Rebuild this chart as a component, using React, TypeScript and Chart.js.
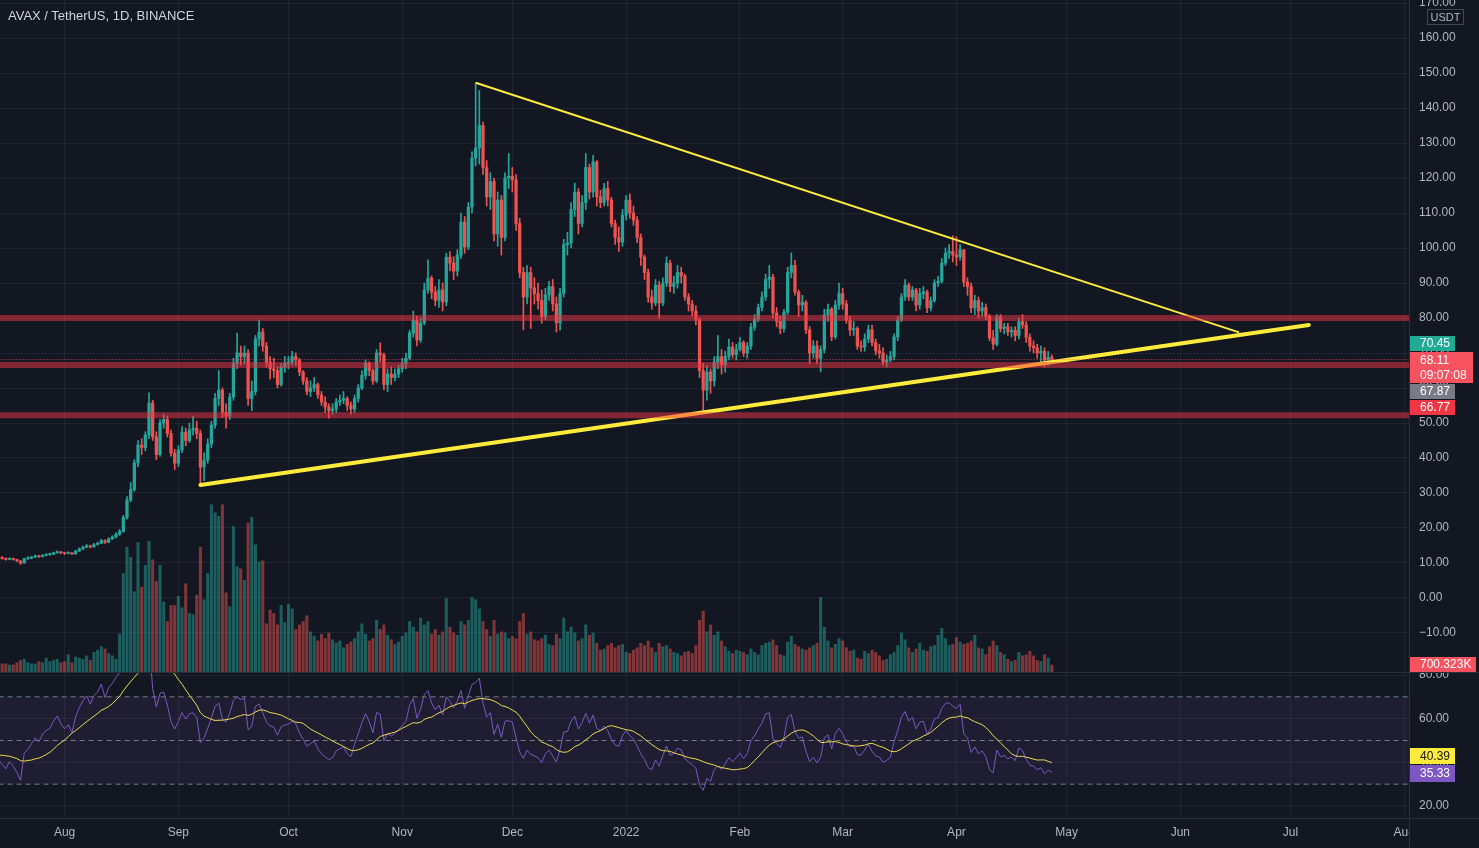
import React, { useEffect, useRef } from 'react';
import { Chart, registerables } from 'chart.js';

Chart.register(...registerables);

// ---------------- DATA ----------------
const symbolTitle = 'AVAX / TetherUS, 1D, BINANCE';
const firstCandleDate = '2021-07-14';

// closes before the first visible candle (only used to warm up the RSI)
const warmupCloses = [14.0, 14.5, 13.3, 13.2, 12.3, 12.0, 12.5, 10.4, 10.0, 10.6, 11.3, 10.6, 10.5, 11.2, 11.5, 12.4, 12.0, 11.7, 11.9, 12.3, 12.6, 12.0, 12.5, 12.6, 11.9, 12.3, 12.0, 12.2, 11.8, 11.7];

const closes = [
  // Jul 14-31
  11.6, 11.3, 11.0, 11.3, 11.0, 10.6, 10.0, 11.2, 11.4, 11.7, 12.0, 11.8, 12.2, 12.4, 12.5, 12.9, 13.2, 12.9,
  // Aug
  12.7, 12.9, 12.6, 13.4, 14.0, 14.5, 14.9, 14.6, 15.3, 15.6, 16.4, 15.9, 16.9, 17.4, 18.2, 19.0, 23.0, 28.0, 31.0, 38.6, 43.7, 43.0, 46.6, 55.7, 46.0, 41.0, 50.0, 51.0, 47.0, 41.4, 38.5,
  // Sep
  42.3, 47.4, 45.0, 48.0, 48.5, 47.0, 37.4, 39.4, 44.0, 49.4, 57.0, 59.4, 53.0, 52.0, 57.4, 67.0, 70.0, 69.0, 70.0, 57.0, 59.0, 74.0, 76.0, 72.0, 67.4, 65.5, 65.0, 61.0, 66.0, 67.0,
  // Oct
  67.4, 69.0, 68.0, 64.6, 62.0, 59.0, 60.0, 61.0, 58.0, 56.0, 54.6, 53.5, 54.0, 56.0, 56.5, 57.0, 55.0, 54.0, 57.0, 60.0, 63.6, 67.0, 65.0, 62.0, 70.0, 69.5, 61.0, 64.0, 63.0, 64.0, 65.5,
  // Nov
  67.0, 68.5, 75.7, 79.4, 73.7, 78.6, 88.0, 91.4, 87.4, 85.0, 88.0, 84.6, 97.4, 95.7, 93.4, 98.0, 107.4, 100.3, 111.7, 125.7, 128.6, 135.0, 123.0, 114.6, 119.0, 104.0, 113.7, 103.0, 120.0, 120.5,
  // Dec
  119.5, 107.0, 93.0, 86.0, 93.0, 88.6, 87.0, 85.0, 80.3, 86.6, 89.0, 84.0, 78.6, 87.0, 101.0, 101.4, 111.0, 116.0, 107.0, 113.0, 123.0, 116.0, 124.6, 114.6, 113.0, 117.0, 113.7, 107.0, 103.0, 101.7, 109.4,
  // Jan
  113.7, 110.0, 108.0, 103.0, 97.4, 93.0, 86.0, 84.3, 89.4, 84.3, 90.0, 95.7, 89.0, 90.0, 93.0, 92.0, 86.0, 84.0, 82.0, 79.4, 65.0, 59.4, 64.6, 62.0, 67.4, 69.0, 66.6, 69.0, 71.7, 69.5, 71.0,
  // Feb
  73.0, 70.0, 72.0, 77.4, 79.7, 83.0, 86.0, 91.0, 91.7, 81.4, 79.0, 77.0, 81.7, 93.0, 95.0, 87.4, 83.7, 84.5, 76.6, 70.0, 72.0, 68.5, 71.0, 80.9, 82.5, 74.6, 83.7, 87.0,
  // Mar
  84.0, 79.4, 76.6, 77.0, 72.0, 71.7, 74.0, 76.6, 73.0, 70.6, 70.0, 67.4, 68.0, 69.0, 74.6, 79.4, 86.0, 89.4, 86.0, 88.0, 83.7, 87.0, 87.5, 82.9, 85.0, 90.0, 90.5, 95.7, 98.6, 99.0, 98.0,
  // Apr 1-27
  97.4, 99.5, 90.3, 89.0, 82.9, 85.0, 82.0, 83.0, 80.5, 74.3, 72.5, 80.3, 77.0, 77.5, 76.0, 76.5, 75.0, 79.0, 78.0, 74.5, 72.0, 71.5, 70.0, 70.5, 68.0, 68.8, 68.11,
];

const highs = [
  12.0, 11.8, 11.5, 11.5, 11.4, 11.1, 10.7, 11.4, 11.8, 11.9, 12.3, 12.2, 12.4, 12.7, 12.8, 13.1, 13.5, 13.3,
  13.1, 13.2, 13.0, 13.6, 14.3, 14.8, 15.3, 15.1, 15.6, 16.0, 16.8, 16.6, 17.2, 17.8, 18.6, 19.6, 23.6, 29.0, 33.0, 39.5, 45.0, 45.5, 47.5, 58.6, 56.5, 47.5, 51.0, 52.5, 52.0, 48.0, 42.5,
  43.5, 49.0, 48.5, 50.0, 52.0, 50.5, 48.0, 41.5, 45.5, 50.5, 58.5, 65.0, 60.0, 55.5, 58.5, 68.5, 75.7, 72.0, 72.0, 71.0, 62.0, 75.0, 79.4, 77.0, 73.0, 69.0, 68.5, 66.0, 67.0, 69.0,
  69.0, 70.5, 70.0, 68.5, 65.0, 63.0, 62.0, 63.0, 61.5, 59.0, 57.5, 55.5, 55.5, 57.0, 58.0, 59.0, 57.5, 56.0, 58.0, 61.0, 65.0, 68.0, 67.5, 65.5, 71.0, 72.9, 70.0, 65.5, 66.0, 65.5, 66.5,
  68.5, 70.0, 76.5, 82.0, 80.5, 80.0, 90.0, 96.6, 92.0, 89.0, 91.0, 90.0, 98.5, 99.0, 97.5, 99.5, 110.0, 109.0, 113.0, 127.5, 147.2, 145.0, 136.0, 125.0, 121.5, 120.0, 116.0, 115.0, 121.5, 127.0,
  123.0, 121.0, 108.5, 94.5, 95.0, 94.5, 91.5, 90.0, 88.0, 88.5, 90.5, 91.0, 86.0, 88.5, 102.5, 104.5, 113.0, 118.5, 117.0, 115.0, 127.0, 124.0, 126.5, 125.0, 116.5, 118.5, 119.0, 114.5, 108.0, 106.0, 111.0,
  115.0, 115.5, 112.0, 109.0, 104.0, 98.0, 94.0, 88.0, 91.0, 90.5, 91.5, 97.5, 96.5, 92.0, 95.0, 94.5, 92.5, 87.0, 85.0, 83.5, 80.0, 67.0, 66.5, 65.5, 69.0, 75.0, 71.0, 70.5, 74.0, 73.0, 72.5,
  74.5, 73.5, 73.0, 78.5, 81.0, 84.0, 87.5, 92.5, 95.0, 92.5, 83.0, 80.5, 82.5, 94.5, 98.6, 96.5, 88.0, 86.5, 85.0, 77.5, 73.5, 73.5, 72.0, 82.5, 84.0, 83.0, 85.0, 90.0,
  88.5, 85.0, 80.5, 79.0, 77.5, 73.5, 75.5, 78.0, 78.0, 74.0, 72.5, 71.5, 69.5, 70.5, 75.5, 80.5, 87.0, 91.0, 90.0, 89.0, 88.5, 88.5, 89.0, 88.0, 86.0, 91.0, 92.0, 97.0, 100.0, 101.0, 103.5,
  103.2, 101.0, 99.5, 91.5, 90.0, 86.5, 86.0, 84.5, 84.0, 81.0, 76.5, 81.0, 81.0, 78.5, 78.5, 77.5, 77.5, 80.0, 81.0, 79.0, 75.5, 73.5, 72.5, 72.0, 71.5, 70.45, 69.5,
];

const lows = [
  11.3, 11.1, 10.8, 10.9, 10.8, 10.4, 9.6, 9.9, 11.0, 11.2, 11.5, 11.6, 11.7, 12.0, 12.2, 12.4, 12.8, 12.7,
  12.4, 12.6, 12.4, 12.5, 13.3, 13.8, 14.4, 14.3, 14.5, 15.1, 15.5, 15.6, 15.8, 16.7, 17.2, 17.9, 18.8, 22.5, 27.5, 30.5, 37.5, 41.0, 42.0, 45.5, 45.0, 39.5, 40.5, 48.5, 46.0, 40.5, 36.7,
  37.5, 41.5, 43.5, 44.5, 46.5, 45.5, 32.8, 33.5, 38.5, 43.0, 48.5, 55.0, 51.5, 48.5, 51.0, 56.5, 65.5, 66.5, 67.0, 55.0, 53.5, 58.0, 72.0, 70.5, 66.0, 62.5, 63.0, 60.0, 60.5, 64.5,
  65.5, 66.5, 66.5, 63.5, 61.0, 58.0, 57.5, 59.0, 57.0, 55.0, 53.0, 51.4, 52.5, 53.0, 55.0, 55.5, 53.5, 52.5, 53.0, 56.0, 59.5, 62.5, 63.5, 61.0, 61.5, 67.5, 59.5, 59.0, 61.0, 62.0, 63.0,
  64.5, 65.5, 68.0, 74.5, 72.0, 73.0, 78.0, 87.0, 85.5, 83.5, 83.0, 82.0, 83.5, 93.5, 91.0, 92.0, 97.0, 98.5, 99.5, 110.0, 123.5, 124.0, 121.0, 112.0, 111.0, 102.0, 100.5, 98.0, 102.0, 117.0,
  116.0, 105.0, 91.5, 76.6, 84.0, 77.0, 84.0, 82.5, 78.5, 79.5, 85.0, 82.0, 76.0, 76.5, 86.0, 98.0, 100.0, 109.0, 104.0, 106.0, 111.0, 114.0, 114.5, 112.0, 111.5, 112.0, 112.0, 106.0, 101.0, 99.0, 100.5,
  108.0, 108.5, 106.5, 101.5, 95.0, 91.0, 84.5, 82.5, 83.5, 80.0, 83.5, 89.0, 87.5, 87.0, 88.5, 90.0, 85.0, 82.0, 80.5, 78.0, 63.0, 53.0, 56.5, 58.5, 60.5, 65.5, 64.0, 64.5, 68.0, 68.5, 68.0,
  70.5, 69.0, 68.5, 71.0, 76.5, 79.0, 82.0, 85.0, 88.5, 80.0, 77.5, 75.5, 76.0, 81.0, 91.5, 86.5, 80.5, 82.0, 75.5, 67.0, 68.5, 67.0, 64.6, 70.0, 79.0, 73.5, 74.0, 82.5,
  82.5, 78.5, 75.0, 75.0, 71.0, 70.5, 70.5, 73.0, 72.0, 69.5, 68.5, 66.5, 66.0, 67.5, 68.0, 73.5, 79.0, 85.0, 85.0, 85.0, 82.0, 82.5, 85.5, 81.5, 82.0, 84.5, 89.0, 90.0, 95.0, 97.0, 96.0,
  95.0, 96.5, 89.0, 86.5, 81.5, 81.0, 80.0, 80.5, 79.5, 73.5, 71.0, 72.0, 76.0, 75.5, 75.0, 74.5, 73.5, 74.0, 77.0, 73.0, 70.5, 70.0, 68.5, 66.5, 66.0, 66.5, 67.5,
];

// daily volume, millions of AVAX
const volumes = [
  0.9, 0.8, 0.8, 0.7, 0.7, 0.9, 1.1, 1.2, 0.9, 0.8, 0.8, 1.0, 0.9, 1.3, 1.0, 1.1, 1.2, 0.9,
  1.0, 1.6, 0.9, 1.4, 1.3, 1.2, 1.5, 1.1, 1.8, 2.0, 2.3, 2.1, 1.7, 1.5, 1.2, 3.4, 8.7, 11.0, 10.1, 7.1, 11.4, 7.5, 9.4, 11.5, 9.9, 8.0, 9.4, 6.2, 4.5, 5.9, 5.9,
  6.7, 5.7, 7.8, 5.2, 5.1, 6.8, 11.0, 6.4, 8.7, 14.7, 14.0, 13.7, 14.7, 7.0, 5.8, 12.8, 9.3, 9.1, 8.1, 13.1, 13.6, 11.2, 9.7, 9.8, 4.3, 5.5, 5.2, 4.2, 5.9, 4.4,
  6.0, 5.6, 3.8, 4.2, 4.5, 5.0, 3.6, 3.2, 2.8, 3.4, 3.0, 3.5, 2.9, 2.6, 2.8, 2.2, 2.5, 2.7, 3.0, 3.6, 4.3, 3.4, 2.8, 3.0, 4.6, 3.8, 4.2, 3.3, 2.9, 2.5, 2.7,
  3.2, 3.5, 4.5, 4.0, 3.6, 4.8, 4.2, 4.5, 3.4, 3.8, 3.3, 3.6, 6.5, 4.0, 3.5, 3.3, 4.5, 4.2, 4.6, 6.6, 6.4, 5.6, 4.5, 3.8, 3.2, 4.6, 3.4, 3.6, 3.5, 3.0,
  3.2, 3.0, 4.5, 5.2, 3.4, 3.6, 2.9, 2.8, 3.0, 3.3, 2.5, 2.4, 3.4, 3.0, 4.8, 3.6, 4.0, 3.5, 2.8, 3.0, 4.2, 3.3, 3.5, 2.6, 2.0, 2.1, 2.4, 2.6, 2.2, 2.4, 2.5,
  1.8, 1.7, 2.0, 2.2, 2.6, 2.4, 2.8, 2.2, 1.8, 2.6, 2.3, 2.4, 2.1, 1.8, 1.7, 1.5, 1.8, 1.9, 1.7, 2.4, 4.6, 5.4, 3.6, 4.2, 3.3, 3.6, 2.8, 2.3, 1.9, 1.7, 2.0,
  1.9, 1.8, 1.6, 2.1, 1.8, 1.6, 2.4, 2.6, 2.7, 2.9, 2.4, 1.6, 1.5, 2.7, 3.2, 2.5, 2.3, 2.1, 2.0, 2.2, 2.4, 2.6, 6.6, 4.0, 2.8, 2.2, 2.5, 3.0,
  2.8, 2.2, 1.9, 2.0, 1.3, 1.2, 1.9, 1.7, 2.0, 1.8, 1.5, 1.1, 1.2, 1.6, 1.8, 2.4, 3.5, 2.9, 2.2, 1.8, 2.1, 2.6, 2.0, 1.9, 2.3, 2.4, 3.3, 3.9, 3.0, 2.4, 2.5,
  3.1, 2.7, 2.5, 2.6, 2.8, 3.3, 2.2, 2.1, 1.6, 2.3, 2.8, 2.4, 1.8, 1.6, 1.2, 1.0, 1.1, 1.8, 1.5, 1.6, 1.9, 1.5, 1.1, 1.0, 1.6, 1.3, 0.70,
];

// time axis
const monthStarts = ['2021-08-01', '2021-09-01', '2021-10-01', '2021-11-01', '2021-12-01', '2022-01-01', '2022-02-01', '2022-03-01', '2022-04-01', '2022-05-01', '2022-06-01', '2022-07-01', '2022-08-01'];
const monthLabels = ['Aug', 'Sep', 'Oct', 'Nov', 'Dec', '2022', 'Feb', 'Mar', 'Apr', 'May', 'Jun', 'Jul', 'Aug'];
const viewStart = '2021-07-14';
const viewEnd = '2022-08-01';

// price axis
const priceTicks = [-10, 0, 10, 20, 30, 40, 50, 60, 70, 80, 90, 100, 110, 120, 130, 140, 150, 160, 170];
const priceMin = -21.43;
const priceMax = 170.86;
const volumeMax = 58.8;
const rsiTicks = [20, 40, 60, 80];
const rsiMin = 14.5;
const rsiMax = 80.92;
const rsiBands = [70, 50, 30];

// drawings
const zoneLevels = [80.0, 66.6, 52.2];
const resistanceLine = [{ date: '2021-11-21', price: 147.2 }, { date: '2022-06-17', price: 75.9 }];
const supportLine = [{ date: '2021-09-07', price: 32.3 }, { date: '2022-07-06', price: 78.0 }];

// axis labels
const lastPrice = 68.11;
const countdown = '09:07:08';
const labelHigh = 70.45;
const labelPrevClose = 67.87;
const labelLevel = 66.77;
const lastVolumeText = '700.323K';
const lastVolume = 0.700323;
const rsiLast = 35.33;
const rsiMaLast = 40.39;

// ---------------- STYLE ----------------
const BG = '#131722';
const GRID = 'rgba(240,243,250,0.06)';
const BORDER = '#2a2e39';
const TEXT = '#b2b5be';
const UP = '#26a69a';
const DOWN = '#ef5350';
const FONT = '"Liberation Sans", Arial, sans-serif';
const AXIS_W = 70;

const DAY = 86400000;
const ORIGIN = Date.UTC(2021, 7, 1);
const dayOf = (iso: string) => (Date.parse(iso + 'T00:00:00Z') - ORIGIN) / DAY;

const xMin = dayOf(viewStart) + 0.4;
const xMax = dayOf(viewEnd) + 1.3;
const firstDay = dayOf(firstCandleDate);
const days = closes.map((_, i) => firstDay + i);
const opens = closes.map((_, i) => (i === 0 ? warmupCloses[warmupCloses.length - 1] : closes[i - 1]));
const candleColors = closes.map((c, i) => (c >= opens[i] ? UP : DOWN));
const volColors = closes.map((c, i) => (c >= opens[i] ? 'rgba(38,166,154,0.5)' : 'rgba(239,83,80,0.5)'));
const monthTickValues = monthStarts.map(dayOf);

function rsi(src: number[], len: number) {
  const out: (number | null)[] = src.map(() => null);
  let g = 0, l = 0;
  for (let i = 1; i <= len; i++) {
    const d = src[i] - src[i - 1];
    if (d > 0) g += d; else l -= d;
  }
  g /= len; l /= len;
  out[len] = l === 0 ? 100 : 100 - 100 / (1 + g / l);
  for (let i = len + 1; i < src.length; i++) {
    const d = src[i] - src[i - 1];
    g = (g * (len - 1) + Math.max(d, 0)) / len;
    l = (l * (len - 1) + Math.max(-d, 0)) / len;
    out[i] = l === 0 ? 100 : 100 - 100 / (1 + g / l);
  }
  return out;
}
function sma(src: (number | null)[], len: number) {
  return src.map((_, i) => {
    if (i < len - 1) return null;
    let s = 0;
    for (let k = i - len + 1; k <= i; k++) {
      if (src[k] == null) return null;
      s += src[k] as number;
    }
    return s / len;
  });
}
const allCloses = [...warmupCloses, ...closes];
const rsiAll = rsi(allCloses, 14);
const rsiMaAll = sma(rsiAll, 14);
const rsiValues = rsiAll.slice(warmupCloses.length);
const rsiMaValues = rsiMaAll.slice(warmupCloses.length);

function fmt(v: number) {
  return (v < 0 ? '\u2212' : '') + Math.abs(v).toFixed(2);
}

function drawBox(ctx: CanvasRenderingContext2D, x: number, y: number, w: number, h: number, bg: string, lines: string[], fg: string) {
  ctx.fillStyle = bg;
  ctx.fillRect(x, y, w, h);
  ctx.fillStyle = fg;
  ctx.font = '12px ' + FONT;
  ctx.textAlign = 'left';
  ctx.textBaseline = 'middle';
  const lh = h / lines.length;
  lines.forEach((t, i) => ctx.fillText(t, x + 10, y + lh * i + lh / 2 + 0.5));
}

const mainLabelsPlugin = {
  id: 'mainLabels',
  afterDraw(chart: any) {
    const { ctx, chartArea, scales } = chart;
    const x0 = chartArea.right + 1;
    ctx.save();
    // USDT unit box
    ctx.fillStyle = BG;
    ctx.fillRect(x0 + 17, 9, 37, 16);
    ctx.strokeStyle = '#434651';
    ctx.lineWidth = 1;
    ctx.strokeRect(x0 + 17.5, 9.5, 36, 15);
    ctx.fillStyle = TEXT;
    ctx.font = '11px ' + FONT;
    ctx.textAlign = 'center';
    ctx.textBaseline = 'middle';
    ctx.fillText('USDT', x0 + 35.5, 17.5);
    // price labels, stacked around the last price
    const py = scales.y.getPixelForValue(lastPrice);
    const top = Math.round(py - 7.5);
    drawBox(ctx, x0, top, 63, 31, '#f7525f', [lastPrice.toFixed(2), countdown], '#ffffff');
    drawBox(ctx, x0, top - 16, 45, 15, '#22ab94', [labelHigh.toFixed(2)], '#ffffff');
    drawBox(ctx, x0, top + 32, 45, 15, '#787b86', [labelPrevClose.toFixed(2)], '#ffffff');
    drawBox(ctx, x0, top + 48, 45, 15, '#f23645', [labelLevel.toFixed(2)], '#ffffff');
    // volume label
    const vy = scales.yVol.getPixelForValue(lastVolume);
    drawBox(ctx, x0, Math.round(vy - 7.5), 66, 15, '#f7525f', [lastVolumeText], '#ffffff');
    // pane separator
    ctx.fillStyle = BORDER;
    ctx.fillRect(0, chart.height - 1, chart.width, 1);
    ctx.restore();
  },
};

const rsiLabelsPlugin = {
  id: 'rsiLabels',
  afterDraw(chart: any) {
    const { ctx, chartArea, scales } = chart;
    const x0 = chartArea.right + 1;
    ctx.save();
    const ry = scales.y.getPixelForValue(rsiLast);
    const t1 = Math.round(ry - 8);
    drawBox(ctx, x0, t1, 45, 17, '#7e57c2', [rsiLast.toFixed(2)], '#ffffff');
    drawBox(ctx, x0, t1 - 17, 45, 16, '#ffeb3b', [rsiMaLast.toFixed(2)], '#131722');
    // bottom-right corner & borders
    ctx.fillStyle = BG;
    ctx.fillRect(chartArea.right + 1, chartArea.bottom + 1, chart.width, chart.height);
    ctx.fillStyle = BORDER;
    ctx.fillRect(0, chartArea.bottom, chart.width, 1);
    ctx.fillRect(chartArea.right, 0, 1, chart.height);
    ctx.restore();
  },
};

const noPad = (s: any) => {
  s.paddingTop = 0;
  s.paddingBottom = 0;
};

const xScaleBase = {
  type: 'linear',
  min: xMin,
  max: xMax,
  offset: false,
  afterBuildTicks: (s: any) => {
    s.ticks = monthTickValues.map((v) => ({ value: v }));
  },
};

function hLine(level: number, color: string, width: number, dash: number[], order: number) {
  return {
    type: 'line',
    data: [{ x: xMin - 20, y: level }, { x: xMax + 20, y: level }],
    borderColor: color,
    borderWidth: width,
    borderDash: dash,
    pointRadius: 0,
    order,
  };
}

export default function App() {
  const mainRef = useRef<HTMLCanvasElement>(null);
  const rsiRef = useRef<HTMLCanvasElement>(null);

  useEffect(() => {
    const main = new Chart(mainRef.current as HTMLCanvasElement, {
      type: 'bar',
      data: {
        datasets: [
          {
            type: 'bar',
            data: days.map((d, i) => ({ x: d, y: volumes[i] })),
            yAxisID: 'yVol',
            backgroundColor: volColors,
            barThickness: 2.4,
            grouped: false,
            order: 10,
          },
          {
            type: 'bar',
            data: days.map((d, i) => ({ x: d, y: [Math.min(lows[i], opens[i], closes[i]), Math.max(highs[i], opens[i], closes[i])] })),
            yAxisID: 'y',
            backgroundColor: candleColors,
            barThickness: 1,
            grouped: false,
            order: 9,
          },
          {
            type: 'bar',
            data: days.map((d, i) => ({ x: d, y: [opens[i], closes[i]] })),
            yAxisID: 'y',
            backgroundColor: candleColors,
            barThickness: 2.6,
            minBarLength: 1,
            grouped: false,
            order: 8,
          },
          {
            type: 'line',
            data: resistanceLine.map((p) => ({ x: dayOf(p.date), y: p.price })),
            yAxisID: 'y',
            borderColor: '#ffeb3b',
            borderWidth: 2,
            pointRadius: 0,
            order: 7,
          },
          {
            type: 'line',
            data: supportLine.map((p) => ({ x: dayOf(p.date), y: p.price })),
            yAxisID: 'y',
            borderColor: '#ffeb3b',
            borderWidth: 4,
            borderCapStyle: 'round',
            pointRadius: 0,
            order: 7,
          },
          ...zoneLevels.map((lv) => ({ ...hLine(lv, 'rgba(242,54,69,0.5)', 6, [], 6), yAxisID: 'y' })),
          { ...hLine(lastPrice, 'rgba(247,82,95,0.9)', 1, [1, 2], 5), yAxisID: 'y' },
        ],
      } as any,
      options: {
        responsive: false,
        animation: false,
        events: [],
        layout: { padding: 0 },
        plugins: { legend: { display: false }, tooltip: { enabled: false } },
        scales: {
          x: {
            ...xScaleBase,
            ticks: { display: false },
            grid: { color: GRID, drawTicks: false, offset: false },
            border: { display: false },
          },
          y: {
            position: 'right',
            min: priceMin,
            max: priceMax,
            afterBuildTicks: (s: any) => {
              s.ticks = priceTicks.map((v) => ({ value: v }));
            },
            afterFit: (s: any) => {
              s.width = AXIS_W;
              noPad(s);
            },
            ticks: { color: TEXT, font: { family: FONT, size: 12 }, padding: 10, callback: (v: any) => fmt(Number(v)) },
            grid: { color: GRID, drawTicks: false },
            border: { display: true, color: BORDER },
          },
          yVol: { display: false, min: 0, max: volumeMax },
        },
      } as any,
      plugins: [mainLabelsPlugin],
    });

    const rsiChart = new Chart(rsiRef.current as HTMLCanvasElement, {
      type: 'line',
      data: {
        datasets: [
          {
            data: [{ x: xMin - 20, y: rsiBands[0] }, { x: xMax + 20, y: rsiBands[0] }],
            borderWidth: 0,
            pointRadius: 0,
            fill: { value: rsiBands[2] },
            backgroundColor: 'rgba(126,87,194,0.1)',
            order: 10,
          },
          ...rsiBands.map((b) => hLine(b, '#787b86', 1, [5, 4], 9)),
          {
            data: days.map((d, i) => ({ x: d, y: rsiValues[i] })),
            borderColor: '#7e57c2',
            borderWidth: 1,
            pointRadius: 0,
            order: 2,
          },
          {
            data: days.map((d, i) => ({ x: d, y: rsiMaValues[i] })),
            borderColor: '#f0dc4e',
            borderWidth: 1,
            pointRadius: 0,
            order: 1,
          },
        ],
      } as any,
      options: {
        responsive: false,
        animation: false,
        events: [],
        layout: { padding: 0 },
        plugins: { legend: { display: false }, tooltip: { enabled: false } },
        scales: {
          x: {
            ...xScaleBase,
            afterFit: (s: any) => {
              s.height = 30;
            },
            ticks: {
              color: TEXT,
              font: { family: FONT, size: 12 },
              padding: 7,
              autoSkip: false,
              maxRotation: 0,
              callback: (v: any) => monthLabels[monthTickValues.indexOf(Number(v))] ?? '',
            },
            grid: { color: GRID, drawTicks: false },
            border: { display: false },
          },
          y: {
            position: 'right',
            min: rsiMin,
            max: rsiMax,
            afterBuildTicks: (s: any) => {
              s.ticks = rsiTicks.map((v) => ({ value: v }));
            },
            afterFit: (s: any) => {
              s.width = AXIS_W;
              noPad(s);
            },
            ticks: { color: TEXT, font: { family: FONT, size: 12 }, padding: 10, callback: (v: any) => fmt(Number(v)) },
            grid: { color: GRID, drawTicks: false },
            border: { display: true, color: BORDER },
          },
        },
      } as any,
      plugins: [rsiLabelsPlugin],
    });

    return () => {
      main.destroy();
      rsiChart.destroy();
    };
  }, []);

  return (
    <div style={{ position: 'absolute', left: 0, top: 0, width: 1479, height: 848, background: BG, overflow: 'hidden' }}>
      <canvas ref={mainRef} width={1479} height={673} style={{ display: 'block' }} />
      <canvas ref={rsiRef} width={1479} height={175} style={{ display: 'block' }} />
      <div
        style={{
          position: 'absolute',
          left: 8,
          top: 8,
          color: '#d1d4dc',
          font: '13px ' + FONT,
          lineHeight: '16px',
          pointerEvents: 'none',
        }}
      >
        {symbolTitle}
      </div>
    </div>
  );
}
